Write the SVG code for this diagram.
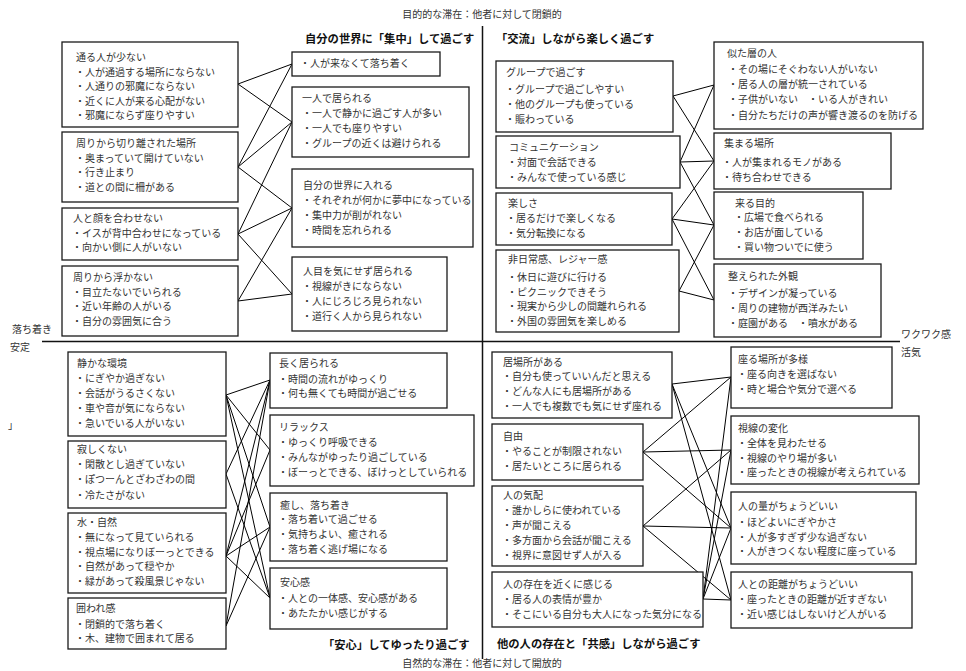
<svg xmlns="http://www.w3.org/2000/svg" width="966" height="671" viewBox="0 0 966 671">
<style>
.bg{fill:#fff}
.box{fill:#fff;stroke:#1a1a1a;stroke-width:1.3}
.t{font-family:"Noto Sans CJK JP","Noto Sans CJK SC",sans-serif;font-size:10px;fill:#333}
.h{font-family:"Noto Sans CJK JP","Noto Sans CJK SC",sans-serif;font-size:11.3px;font-weight:bold;fill:#111}
.ax{stroke:#111;stroke-width:1.5;fill:none}
.c line{stroke:#000;stroke-width:1}
</style>
<rect class="bg" x="0" y="0" width="966" height="671"/>
<g id="axes">
<line class="ax" x1="482.5" y1="26" x2="482.5" y2="659"/>
<line class="ax" x1="42" y1="341.5" x2="900" y2="341.5"/>
<text class="t" x="482" y="18" text-anchor="middle">目的的な滞在：他者に対して閉鎖的</text>
<text class="t" x="482" y="667" text-anchor="middle">自然的な滞在：他者に対して開放的</text>
<text class="t" x="12" y="333">落ち着き</text>
<text class="t" x="10" y="351">安定</text>
<text class="t" x="901" y="338">ワクワク感</text>
<text class="t" x="901" y="356">活気</text>
<text class="t" x="8" y="429">」</text>
</g>
<g id="headers">
<text class="h" x="305" y="43">自分の世界に「集中」して過ごす</text>
<text class="h" x="496" y="43">「交流」しながら楽しく過ごす</text>
<text class="h" x="323" y="649">「安心」してゆったり過ごす</text>
<text class="h" x="497" y="648">他の人の存在と「共感」しながら過ごす</text>
</g>
<g id="connectors" class="c">
<line x1="238" y1="84" x2="292" y2="64"/>
<line x1="238" y1="84" x2="292" y2="122"/>
<line x1="238" y1="167" x2="292" y2="64"/>
<line x1="238" y1="167" x2="292" y2="122"/>
<line x1="238" y1="167" x2="292" y2="208"/>
<line x1="238" y1="234" x2="292" y2="122"/>
<line x1="238" y1="234" x2="292" y2="208"/>
<line x1="238" y1="234" x2="292" y2="294"/>
<line x1="238" y1="301" x2="292" y2="208"/>
<line x1="238" y1="301" x2="292" y2="294"/>
<line x1="673" y1="96" x2="714" y2="85"/>
<line x1="673" y1="96" x2="714" y2="161"/>
<line x1="680" y1="162" x2="714" y2="85"/>
<line x1="680" y1="162" x2="714" y2="161"/>
<line x1="680" y1="162" x2="714" y2="225"/>
<line x1="672" y1="219" x2="714" y2="161"/>
<line x1="672" y1="219" x2="714" y2="225"/>
<line x1="672" y1="219" x2="714" y2="300"/>
<line x1="679" y1="291" x2="714" y2="225"/>
<line x1="679" y1="291" x2="714" y2="300"/>
<line x1="226" y1="395" x2="270" y2="380"/>
<line x1="226" y1="395" x2="270" y2="450"/>
<line x1="226" y1="395" x2="270" y2="527"/>
<line x1="226" y1="395" x2="270" y2="598"/>
<line x1="226" y1="474" x2="270" y2="380"/>
<line x1="226" y1="474" x2="270" y2="598"/>
<line x1="226" y1="556" x2="270" y2="380"/>
<line x1="226" y1="556" x2="270" y2="450"/>
<line x1="226" y1="556" x2="270" y2="527"/>
<line x1="226" y1="556" x2="270" y2="598"/>
<line x1="226" y1="626" x2="270" y2="380"/>
<line x1="226" y1="626" x2="270" y2="527"/>
<line x1="672" y1="384" x2="731" y2="377"/>
<line x1="672" y1="384" x2="731" y2="528"/>
<line x1="672" y1="384" x2="731" y2="600"/>
<line x1="643" y1="452" x2="731" y2="377"/>
<line x1="643" y1="452" x2="731" y2="450"/>
<line x1="643" y1="452" x2="731" y2="528"/>
<line x1="643" y1="526" x2="731" y2="450"/>
<line x1="643" y1="526" x2="731" y2="528"/>
<line x1="643" y1="526" x2="731" y2="600"/>
<line x1="703" y1="599" x2="731" y2="377"/>
<line x1="703" y1="599" x2="731" y2="450"/>
<line x1="703" y1="599" x2="731" y2="528"/>
<line x1="703" y1="599" x2="731" y2="600"/>
</g>
<g id="nA"><rect class="box" x="62" y="42" width="176" height="85"/><text class="t"><tspan x="76" y="61">通る人が少ない</tspan><tspan x="75" y="75.5">・人が通過する場所にならない</tspan><tspan x="75" y="90">・人通りの邪魔にならない</tspan><tspan x="75" y="104.5">・近くに人が来る心配がない</tspan><tspan x="75" y="119">・邪魔にならず座りやすい</tspan></text></g>
<g id="nB"><rect class="box" x="62" y="132" width="176" height="70"/><text class="t"><tspan x="76" y="147">周りから切り離された場所</tspan><tspan x="75" y="161.5">・奥まっていて開けていない</tspan><tspan x="75" y="176">・行き止まり</tspan><tspan x="75" y="191">・道との間に柵がある</tspan></text></g>
<g id="nC"><rect class="box" x="62" y="208" width="176" height="52"/><text class="t"><tspan x="73" y="222">人と顔を合わせない</tspan><tspan x="72" y="236.5">・イスが背中合わせになっている</tspan><tspan x="72" y="251">・向かい側に人がいない</tspan></text></g>
<g id="nD"><rect class="box" x="62" y="266" width="176" height="70"/><text class="t"><tspan x="73" y="281">周りから浮かない</tspan><tspan x="72" y="295.5">・目立たないでいられる</tspan><tspan x="72" y="310">・近い年齢の人がいる</tspan><tspan x="72" y="325">・自分の雰囲気に合う</tspan></text></g>
<g id="nE"><rect class="box" x="292" y="52" width="148" height="24"/><text class="t"><tspan x="300" y="67">・人が来なくて落ち着く</tspan></text></g>
<g id="nF"><rect class="box" x="292" y="87" width="177" height="70"/><text class="t"><tspan x="302" y="102">一人で居られる</tspan><tspan x="302" y="117">・一人で静かに過ごす人が多い</tspan><tspan x="302" y="132">・一人でも座りやすい</tspan><tspan x="302" y="147">・グループの近くは避けられる</tspan></text></g>
<g id="nG"><rect class="box" x="292" y="169" width="181" height="78"/><text class="t"><tspan x="303" y="189">自分の世界に入れる</tspan><tspan x="302" y="204">・それぞれが何かに夢中になっている</tspan><tspan x="302" y="219">・集中力が削がれない</tspan><tspan x="302" y="233.5">・時間を忘れられる</tspan></text></g>
<g id="nH"><rect class="box" x="292" y="257" width="155" height="74"/><text class="t"><tspan x="303" y="275">人目を気にせず居られる</tspan><tspan x="302" y="290">・視線がきにならない</tspan><tspan x="302" y="305">・人にじろじろ見られない</tspan><tspan x="302" y="320">・道行く人から見られない</tspan></text></g>
<g id="nI"><rect class="box" x="496" y="61" width="177" height="71"/><text class="t"><tspan x="506" y="76">グループで過ごす</tspan><tspan x="505" y="93">・グループで過ごしやすい</tspan><tspan x="505" y="108">・他のグループも使っている</tspan><tspan x="505" y="123">・賑わっている</tspan></text></g>
<g id="nJ"><rect class="box" x="496" y="136" width="184" height="52"/><text class="t"><tspan x="509" y="151">コミュニケーション</tspan><tspan x="507" y="166">・対面で会話できる</tspan><tspan x="507" y="181">・みんなで使っている感じ</tspan></text></g>
<g id="nK"><rect class="box" x="496" y="193" width="176" height="52"/><text class="t"><tspan x="508" y="207">楽しさ</tspan><tspan x="506" y="222">・居るだけで楽しくなる</tspan><tspan x="506" y="237">・気分転換になる</tspan></text></g>
<g id="nL"><rect class="box" x="496" y="250" width="183" height="82"/><text class="t"><tspan x="508" y="263">非日常感、レジャー感</tspan><tspan x="507" y="281">・休日に遊びに行ける</tspan><tspan x="507" y="295.5">・ピクニックできそう</tspan><tspan x="507" y="310">・現実から少しの間離れられる</tspan><tspan x="507" y="325">・外国の雰囲気を楽しめる</tspan></text></g>
<g id="nM"><rect class="box" x="714" y="42" width="209" height="87"/><text class="t"><tspan x="727" y="57">似た層の人</tspan><tspan x="728" y="73">・その場にそぐわない人がいない</tspan><tspan x="728" y="88">・居る人の層が統一されている</tspan><tspan x="728" y="103">・子供がいない　・いる人がきれい</tspan><tspan x="728" y="119">・自分たちだけの声が響き渡るのを防げる</tspan></text></g>
<g id="nN"><rect class="box" x="714" y="133" width="177" height="56"/><text class="t"><tspan x="724" y="147">集まる場所</tspan><tspan x="722" y="166">・人が集まれるモノがある</tspan><tspan x="722" y="180.5">・待ち合わせできる</tspan></text></g>
<g id="nO"><rect class="box" x="714" y="192" width="149" height="67"/><text class="t"><tspan x="735" y="206.5">来る目的</tspan><tspan x="734" y="221">・広場で食べられる</tspan><tspan x="734" y="236">・お店が面している</tspan><tspan x="734" y="251">・買い物ついでに使う</tspan></text></g>
<g id="nP"><rect class="box" x="714" y="264" width="167" height="73"/><text class="t"><tspan x="728" y="280">整えられた外観</tspan><tspan x="728" y="297">・デザインが凝っている</tspan><tspan x="728" y="312">・周りの建物が西洋みたい</tspan><tspan x="728" y="327">・庭園がある　・噴水がある</tspan></text></g>
<g id="nQ"><rect class="box" x="68" y="352" width="158" height="84"/><text class="t"><tspan x="77" y="366.5">静かな環境</tspan><tspan x="75" y="381.5">・にぎやか過ぎない</tspan><tspan x="75" y="396.5">・会話がうるさくない</tspan><tspan x="75" y="411.5">・車や音が気にならない</tspan><tspan x="75" y="426.5">・急いでいる人がいない</tspan></text></g>
<g id="nR"><rect class="box" x="68" y="441" width="158" height="67"/><text class="t"><tspan x="77" y="453">寂しくない</tspan><tspan x="75" y="468">・閑散とし過ぎていない</tspan><tspan x="75" y="483">・ぽつーんとざわざわの間</tspan><tspan x="75" y="499">・冷たさがない</tspan></text></g>
<g id="nS"><rect class="box" x="68" y="513" width="158" height="80"/><text class="t"><tspan x="77" y="526">水・自然</tspan><tspan x="75" y="540.5">・無になって見ていられる</tspan><tspan x="75" y="555.5">・視点場になりぼーっとできる</tspan><tspan x="75" y="570">・自然があって穏やか</tspan><tspan x="75" y="585">・緑があって殺風景じゃない</tspan></text></g>
<g id="nT"><rect class="box" x="68" y="598" width="158" height="51"/><text class="t"><tspan x="76" y="612">囲われ感</tspan><tspan x="75" y="627.5">・閉鎖的で落ち着く</tspan><tspan x="75" y="642">・木、建物で囲まれて居る</tspan></text></g>
<g id="nU"><rect class="box" x="270" y="353" width="177" height="55"/><text class="t"><tspan x="279" y="367">長く居られる</tspan><tspan x="278" y="382.5">・時間の流れがゆっくり</tspan><tspan x="278" y="397">・何も無くても時間が過ごせる</tspan></text></g>
<g id="nV"><rect class="box" x="270" y="415" width="204" height="71"/><text class="t"><tspan x="279" y="430.5">リラックス</tspan><tspan x="278" y="445.5">・ゆっくり呼吸できる</tspan><tspan x="278" y="460.5">・みんながゆったり過ごしている</tspan><tspan x="278" y="475.5">・ぼーっとできる、ぼけっとしていられる</tspan></text></g>
<g id="nW"><rect class="box" x="270" y="493" width="177" height="68"/><text class="t"><tspan x="280" y="508.5">癒し、落ち着き</tspan><tspan x="278" y="523">・落ち着いて過ごせる</tspan><tspan x="278" y="538">・気持ちよい、癒される</tspan><tspan x="278" y="553">・落ち着く逃げ場になる</tspan></text></g>
<g id="nX"><rect class="box" x="270" y="568" width="177" height="61"/><text class="t"><tspan x="280" y="586">安心感</tspan><tspan x="278" y="602">・人との一体感、安心感がある</tspan><tspan x="278" y="617">・あたたかい感じがする</tspan></text></g>
<g id="nY"><rect class="box" x="492" y="352" width="180" height="66"/><text class="t"><tspan x="503" y="365.5">居場所がある</tspan><tspan x="502" y="380">・自分も使っていいんだと思える</tspan><tspan x="502" y="395">・どんな人にも居場所がある</tspan><tspan x="502" y="410">・一人でも複数でも気にせず座れる</tspan></text></g>
<g id="nZ"><rect class="box" x="492" y="424" width="151" height="56"/><text class="t"><tspan x="503" y="439.5">自由</tspan><tspan x="502" y="454.5">・やることが制限されない</tspan><tspan x="502" y="469.5">・居たいところに居られる</tspan></text></g>
<g id="nAA"><rect class="box" x="492" y="486" width="151" height="80"/><text class="t"><tspan x="503" y="499">人の気配</tspan><tspan x="502" y="514">・誰かしらに使われている</tspan><tspan x="502" y="529">・声が聞こえる</tspan><tspan x="502" y="544">・多方面から会話が聞こえる</tspan><tspan x="502" y="559">・視界に意図せず人が入る</tspan></text></g>
<g id="nAB"><rect class="box" x="492" y="572" width="211" height="55"/><text class="t"><tspan x="503" y="588">人の存在を近くに感じる</tspan><tspan x="502" y="603">・居る人の表情が豊か</tspan><tspan x="502" y="618">・そこにいる自分も大人になった気分になる</tspan></text></g>
<g id="nAC"><rect class="box" x="731" y="347" width="161" height="61"/><text class="t"><tspan x="738" y="362.5">座る場所が多様</tspan><tspan x="737" y="377.5">・座る向きを選ばない</tspan><tspan x="737" y="392.5">・時と場合や気分で選べる</tspan></text></g>
<g id="nAD"><rect class="box" x="731" y="416" width="188" height="68"/><text class="t"><tspan x="738" y="432">視線の変化</tspan><tspan x="737" y="447">・全体を見わたせる</tspan><tspan x="737" y="461.5">・視線のやり場が多い</tspan><tspan x="737" y="476">・座ったときの視線が考えられている</tspan></text></g>
<g id="nAE"><rect class="box" x="731" y="492" width="185" height="72"/><text class="t"><tspan x="738" y="510">人の量がちょうどいい</tspan><tspan x="737" y="526">・ほどよいにぎやかさ</tspan><tspan x="737" y="540.5">・人が多すぎず少な過ぎない</tspan><tspan x="737" y="555">・人がきつくない程度に座っている</tspan></text></g>
<g id="nAF"><rect class="box" x="731" y="572" width="181" height="56"/><text class="t"><tspan x="738" y="588">人との距離がちょうどいい</tspan><tspan x="737" y="603">・座ったときの距離が近すぎない</tspan><tspan x="737" y="618">・近い感じはしないけど人がいる</tspan></text></g>
</svg>
